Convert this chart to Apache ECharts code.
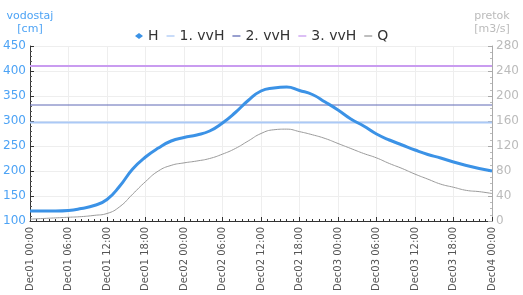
<!DOCTYPE html>
<html>
<head>
<meta charset="utf-8">
<script src="https://cdn.jsdelivr.net/npm/echarts@6/dist/echarts.min.js"></script>
<style>
  html, body { margin: 0; padding: 0; background: #fff; }
  #chart { width: 523px; height: 295px; }
</style>
</head>
<body>
<div id="chart"></div>
<script>
// hours since Dec01 00:00
var hours = [0, 2, 4, 6, 8, 10, 12, 14, 16, 18, 20, 22, 24, 26, 28, 30, 32, 34, 36,
  38, 40, 42, 44, 46, 48, 50, 52, 54, 56, 58, 60, 62, 64, 66, 68, 70, 72];
// vodostaj H [cm]
var hValues = [120, 120, 120, 121, 125, 131, 143, 170, 204, 228, 246, 260, 267, 272, 280, 296, 317, 341, 360,
  366, 368, 361, 353, 338, 322, 304, 290, 274, 262, 252, 242, 233, 226, 218, 211, 205, 200];
// pretok Q [m3/s]
var qValues = [3, 4, 5, 6, 7, 9, 12, 23, 43, 63, 80, 89, 93, 96, 100, 107, 116, 128, 140,
  146, 147, 143, 138, 132, 124, 116, 108, 101, 92, 84, 75, 67, 59, 54, 49, 47, 44];
// opozorilne gladine
var vvhNames = ['1. vvH', '2. vvH', '3. vvH'];
var vvhLevels = [297, 332, 410];
var days = ['Dec01', 'Dec02', 'Dec03', 'Dec04'];

var myChart = echarts.init(document.getElementById('chart'));
var font = 'DejaVu Sans';
var lineIcon = 'path://M0,0H10V1.6H0Z';

function pairs(vals) {
  return hours.map(function (h, i) { return [h, vals[i]]; });
}
function flat(v) {
  return [[hours[0], v], [hours[hours.length - 1], v]];
}
function pad(n) { return n < 10 ? '0' + n : '' + n; }

var vvhColors = ['#abc9f6', '#5f69b5', '#c99cf0'];
var vvhWidths = [2, 1, 2];

var series = [{
  name: 'H',
  type: 'line',
  yAxisIndex: 0,
  data: pairs(hValues),
  smooth: true,
  symbol: 'diamond',
  showSymbol: false,
  lineStyle: { color: '#3b92e6', width: 3 },
  itemStyle: { color: '#3b92e6' },
  z: 5
}];
vvhNames.forEach(function (n, i) {
  series.push({
    name: n,
    type: 'line',
    yAxisIndex: 0,
    data: flat(vvhLevels[i]),
    symbol: 'none',
    lineStyle: { color: vvhColors[i], width: vvhWidths[i] },
    itemStyle: { color: vvhColors[i] },
    silent: true
  });
});
series.push({
  name: 'Q',
  type: 'line',
  yAxisIndex: 1,
  data: pairs(qValues),
  smooth: true,
  symbol: 'none',
  lineStyle: { color: '#9a9a9a', width: 1 },
  itemStyle: { color: '#9a9a9a' }
});

myChart.setOption({
  animation: false,
  textStyle: { fontFamily: font },
  grid: { left: 30, right: 31, top: 46, bottom: 74, outerBoundsMode: 'none' },
  legend: {
    top: 24,
    left: 130,
    itemWidth: 8,
    itemHeight: 6,
    itemGap: 8,
    symbolKeepAspect: true,
    textStyle: { fontSize: 14, color: '#333', fontFamily: font, padding: [0, 0, 0, 0] },
    data: [
      { name: 'H', icon: 'diamond' },
      { name: '1. vvH', icon: lineIcon },
      { name: '2. vvH', icon: lineIcon },
      { name: '3. vvH', icon: lineIcon },
      { name: 'Q', icon: lineIcon }
    ]
  },
  xAxis: {
    type: 'value',
    min: 0,
    max: 72,
    interval: 6,
    axisLine: { lineStyle: { color: '#333' } },
    axisTick: { inside: true, length: 4, lineStyle: { color: '#333' } },
    minorTick: { show: true, splitNumber: 6, length: 2, lineStyle: { color: '#333' } },
    splitLine: { show: true, lineStyle: { color: '#eeeeee' } },
    axisLabel: {
      rotate: 90,
      fontSize: 10,
      color: '#555',
      margin: 6,
      formatter: function (v) {
        return days[Math.floor(v / 24)] + ' ' + pad(v % 24) + ':00';
      }
    }
  },
  yAxis: [{
    type: 'value',
    min: 100,
    max: 450,
    interval: 50,
    name: 'vodostaj\n[cm]',
    nameGap: 10,
    nameTextStyle: { color: '#4da3f5', fontSize: 11, align: 'center', lineHeight: 13 },
    axisLine: { show: true, lineStyle: { color: '#333' } },
    axisTick: { show: true, inside: true, length: 4, lineStyle: { color: '#333' } },
    minorTick: { show: true, splitNumber: 5, length: 2, lineStyle: { color: '#555' } },
    splitLine: { show: true, lineStyle: { color: '#eeeeee' } },
    axisLabel: { color: '#4da3f5', fontSize: 12, margin: 4 }
  }, {
    type: 'value',
    min: 0,
    max: 280,
    interval: 40,
    name: 'pretok\n[m3/s]',
    nameGap: 10,
    nameTextStyle: { color: '#bbbbbb', fontSize: 11, align: 'center', lineHeight: 13 },
    axisLine: { show: true, lineStyle: { color: '#aaaaaa' } },
    axisTick: { show: true, inside: true, length: 4, lineStyle: { color: '#aaaaaa' } },
    minorTick: { show: true, splitNumber: 4, length: 2, lineStyle: { color: '#bbbbbb' } },
    splitLine: { show: false },
    axisLabel: { color: '#bbbbbb', fontSize: 12, margin: 4 }
  }],
  series: series
});
</script>
</body>
</html>
